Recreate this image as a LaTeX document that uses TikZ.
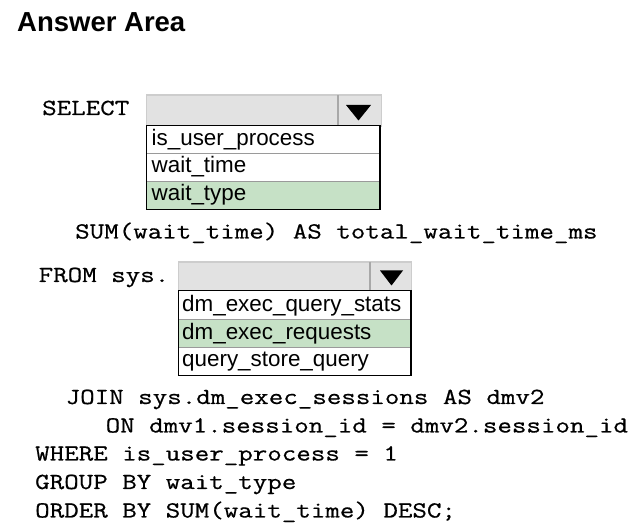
\documentclass[tikz,border=0pt]{standalone}
\usepackage{fontspec}
\setmainfont{Liberation Sans}
\newfontfamily\codefont[FakeStretch=1.225,FakeBold=0.6]{Latin Modern Mono}
\definecolor{hdrfill}{HTML}{E2E2E2}
\definecolor{hdrline}{HTML}{CDCDCD}
\definecolor{sepline}{HTML}{A8A8A8}
\definecolor{rowline}{HTML}{9A9A9A}
\definecolor{selgreen}{HTML}{C6E1C6}
\tikzset{
  code/.style={anchor=base west, inner sep=0pt, font=\codefont\fontsize{23}{27}\selectfont},
  item/.style={anchor=base west, inner sep=0pt, font=\fontsize{22.4}{26}\selectfont},
  title/.style={anchor=base west, inner sep=0pt, font=\bfseries\fontsize{27.5}{32}\selectfont},
  hdr/.style={anchor=north west, fill=hdrfill, draw=hdrline, line width=1.5pt, inner sep=0pt},
  rowbox/.style={anchor=north west, inner sep=0pt, fill=white},
  selrow/.style={rowbox, fill=selgreen},
  listframe/.style={draw=black, line width=1.4pt},
  rowsep/.style={draw=rowline, line width=0.9pt},
  hdrsep/.style={draw=sepline, line width=2pt},
}
\begin{document}
\begin{tikzpicture}[x=1pt,y=-1pt]
\useasboundingbox[fill=white] (0,0) rectangle (633,529);
% title
\node[title] (ttl) at (17,31.5) {Answer Area};

% first dropdown
\node[code] (sel) at (42,115) {SELECT};
\node[hdr, minimum width=235pt, minimum height=31pt] (h1) at (145.5,94.5) {};
\draw[hdrsep] (337.5,95.5) -- (337.5,125);
\fill (346,105) -- (371,105) -- (358.5,120.5) -- cycle;
\node[rowbox, minimum width=233pt, minimum height=27.8pt] (r11) at (146.5,125.5) {};
\node[rowbox, minimum width=233pt, minimum height=27.8pt] (r12) at (146.5,153.3) {};
\node[selrow, minimum width=233pt, minimum height=27.8pt] (r13) at (146.5,181.1) {};
\draw[rowsep] (r11.south west) -- (r11.south east);
\draw[rowsep] (r12.south west) -- (r12.south east);
\draw[listframe] (r11.north west) rectangle (r13.south east);
\node[item] (t11) at (151.5,145.5) {is\_user\_process};
\node[item] (t12) at (151.5,173) {wait\_time};
\node[item] (t13) at (151.5,200.5) {wait\_type};

\node[code] (sum) at (75,238.5) {SUM(wait\_time) AS total\_wait\_time\_ms};

% second dropdown
\node[code] (from) at (38.5,282) {FROM sys.};
\node[hdr, minimum width=233pt, minimum height=29pt] (h2) at (177.5,261.5) {};
\draw[hdrsep] (369.5,262.5) -- (369.5,290.5);
\fill (380,270.5) -- (403,270.5) -- (391.5,285.5) -- cycle;
\node[rowbox, minimum width=232pt, minimum height=28.2pt] (r21) at (178.5,290.8) {};
\node[selrow, minimum width=232pt, minimum height=28.2pt] (r22) at (178.5,319) {};
\node[rowbox, minimum width=232pt, minimum height=28.2pt] (r23) at (178.5,347.2) {};
\draw[rowsep] (r21.south west) -- (r21.south east);
\draw[rowsep] (r22.south west) -- (r22.south east);
\draw[listframe] (r21.north west) rectangle (r23.south east);
\node[item] (t21) at (182,311.5) {dm\_exec\_query\_stats};
\node[item] (t22) at (182,339.5) {dm\_exec\_requests};
\node[item] (t23) at (182,367) {query\_store\_query};

% rest of query
\node[code] (join) at (65.5,404) {JOIN sys.dm\_exec\_sessions AS dmv2};
\node[code] (on) at (105.5,432.5) {ON dmv1.session\_id = dmv2.session\_id};
\node[code] (where) at (35,460.5) {WHERE is\_user\_process = 1};
\node[code] (group) at (35,489) {GROUP BY wait\_type};
\node[code] (order) at (35,517.5) {ORDER BY SUM(wait\_time) DESC;};
\end{tikzpicture}
\end{document}
